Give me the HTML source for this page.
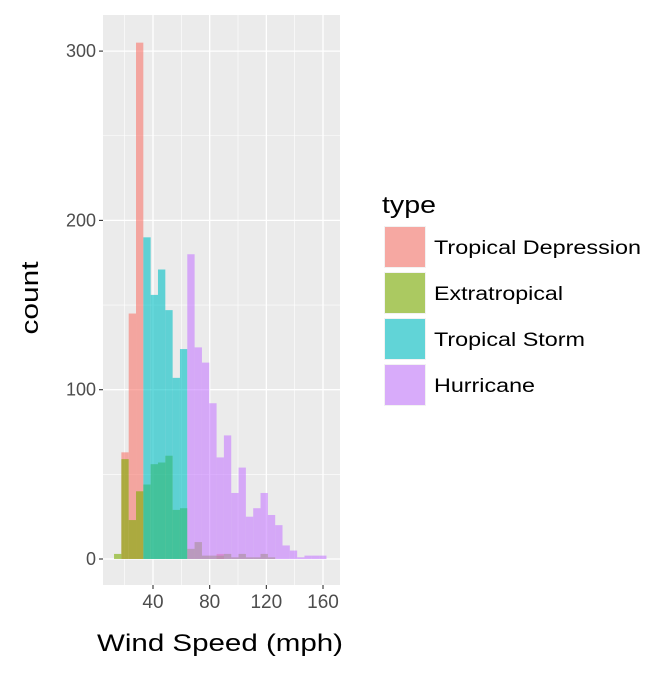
<!DOCTYPE html>
<html><head><meta charset="utf-8"><style>
body{margin:0;background:#fff;font-family:"Liberation Sans",Arial,sans-serif}
</style></head><body>
<svg id="c" width="672" height="672" xmlns="http://www.w3.org/2000/svg"></svg>
<script>
const binStart = 12.5, binWidth = 5.17;
const seriesNames = ["Tropical Depression","Extratropical","Tropical Storm","Hurricane"];
const seriesColors = ["#F8766D","#7CAE00","#00BFC4","#C77CFF"];
const legendWidths = [207,129,151,101];
const tdCounts = [0,63,145,305,0,0,0,0,0,0,0,0,0,0,3,0,0,0,0,0,0,0,0,0,0,0,0,0,0];
const etCounts = [3,59,23,40,44,56,57,61,29,30,6,10,2,2,2,3,1,3,1,1,3,1,0,0,0,0,0,0,0];
const tsCounts = [0,0,0,0,190,156,171,147,107,124,0,0,0,0,0,0,0,0,0,0,0,0,0,0,0,0,0,0,0];
const huCounts = [0,0,0,0,0,0,0,0,0,0,180,125,116,92,60,73,39,54,25,30,39,26,20,8,5,1,2,2,2];
const yTicks = [0,100,200,300];
const xTicks = [40,80,120,160];
const allSeries = [tdCounts, etCounts, tsCounts, huCounts];

const svg = document.getElementById('c');
const NS = "http://www.w3.org/2000/svg";
const L=103, R=340, T=15, B=585;
const xs = v => 153 + (v-40)*(56.67/40);
const ys = v => 559 - v*1.693;
function mk(tag, attrs){const e=document.createElementNS(NS,tag);for(const k in attrs)e.setAttribute(k,attrs[k]);svg.appendChild(e);return e;}

const bg = mk('rect',{x:L,y:T,width:R-L,height:B-T,fill:'#EBEBEB'});


[50,150,250].forEach(v=>{const l=mk('line',{x1:L,x2:R,y1:ys(v),y2:ys(v),stroke:'#fff','stroke-width':0.6});

});
[20,60,100,140].forEach(v=>{const l=mk('line',{x1:xs(v),x2:xs(v),y1:T,y2:B,stroke:'#fff','stroke-width':0.6});

});
yTicks.forEach(v=>{const l=mk('line',{x1:L,x2:R,y1:ys(v),y2:ys(v),stroke:'#fff','stroke-width':1.3});


const t=mk('line',{x1:L-4,x2:L,y1:ys(v),y2:ys(v),stroke:'#333','stroke-width':1.1});


const tx=mk('text',{x:L-7,y:ys(v)+6,'text-anchor':'end','font-size':18,fill:'#4D4D4D'});tx.textContent=v;

});
xTicks.forEach(v=>{const l=mk('line',{x1:xs(v),x2:xs(v),y1:T,y2:B,stroke:'#fff','stroke-width':1.3});


const t=mk('line',{x1:xs(v),x2:xs(v),y1:B,y2:B+4,stroke:'#333','stroke-width':1.1});


const tx=mk('text',{x:xs(v),y:B+23,'text-anchor':'middle','font-size':19,fill:'#4D4D4D'});tx.textContent=v;

});
allSeries.forEach((arr,si)=>{arr.forEach((c,i)=>{if(!c)return;
const x0=xs(binStart+i*binWidth), x1=xs(binStart+(i+1)*binWidth);
const r=mk('rect',{x:x0,y:ys(c),width:x1-x0,height:ys(0)-ys(c),fill:seriesColors[si],'fill-opacity':0.6});

});});
const yt=mk('text',{x:38,y:298,'text-anchor':'middle','font-size':24,fill:'#000',textLength:73,lengthAdjust:'spacingAndGlyphs',transform:'rotate(-90 38 298)'});yt.textContent='count';


const xt=mk('text',{x:220,y:651,'text-anchor':'middle','font-size':24,fill:'#000',textLength:246,lengthAdjust:'spacingAndGlyphs'});xt.textContent='Wind Speed (mph)';


const lt=mk('text',{x:382,y:213,'font-size':24,fill:'#000',textLength:54,lengthAdjust:'spacingAndGlyphs'});lt.textContent='type';


seriesNames.forEach((n,i)=>{const y=226+i*46;
const k=mk('rect',{x:384,y:y,width:42,height:42,fill:'#F2F2F2'});


const s=mk('rect',{x:385,y:y+1,width:40,height:40,fill:seriesColors[i],'fill-opacity':0.6});


const t=mk('text',{x:434,y:y+28,'font-size':19,fill:'#000',textLength:legendWidths[i],lengthAdjust:'spacingAndGlyphs'});t.textContent=n;

});
</script>
</body></html>
